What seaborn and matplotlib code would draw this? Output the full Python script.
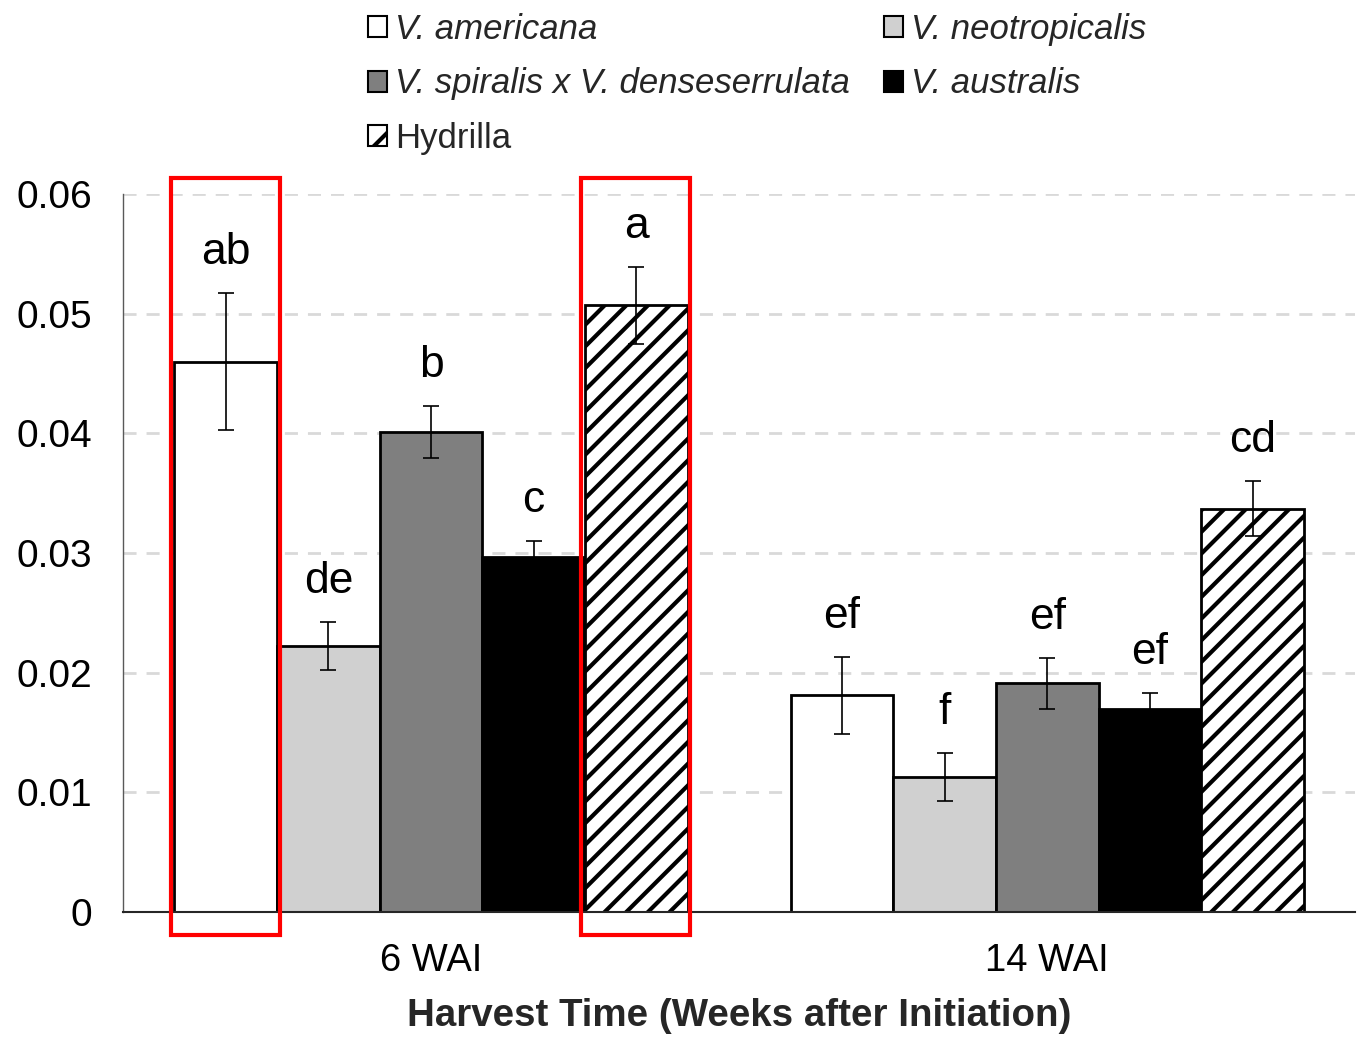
import matplotlib
matplotlib.use("Agg")
import matplotlib.pyplot as plt
from matplotlib.patches import Patch, Rectangle
import pandas as pd
import seaborn as sns

# ---- data ----
times = ["6 WAI", "14 WAI"]
species = ["V. americana", "V. neotropicalis", "V. spiralis x V. denseserrulata",
           "V. australis", "Hydrilla"]
means_6wai = [0.0460, 0.0222, 0.0401, 0.0297, 0.0507]
means_14wai = [0.0181, 0.0113, 0.0191, 0.0170, 0.0337]
err_6wai = [0.0057, 0.0020, 0.0022, 0.0013, 0.0032]
err_14wai = [0.0032, 0.0020, 0.0021, 0.0013, 0.0023]
letters_6wai = ["ab", "de", "b", "c", "a"]
letters_14wai = ["ef", "f", "ef", "ef", "cd"]
yticks = [0, 0.01, 0.02, 0.03, 0.04, 0.05, 0.06]
ytick_labels = ["0", "0.01", "0.02", "0.03", "0.04", "0.05", "0.06"]
xlabel = "Harvest Time (Weeks after Initiation)"
# bars outlined in red: (time, species)
highlighted = [("6 WAI", "Hydrilla"), ("6 WAI", "V. americana")]

fills = ["#ffffff", "#d0d0d0", "#7f7f7f", "#000000", "#ffffff"]
hatches = ["", "", "", "", "//"]

# the figure is rendered at 130 dpi so the hatch spacing comes out tight;
# P converts sizes given for a 100-dpi canvas into points
DPI = 130
P = 100 / DPI

sns.set_style("white")
plt.rcParams["font.family"] = ["Liberation Sans", "DejaVu Sans"]
plt.rcParams["hatch.linewidth"] = 3.0 * P

rows = []
for t, means, errs, lets in [(times[0], means_6wai, err_6wai, letters_6wai),
                             (times[1], means_14wai, err_14wai, letters_14wai)]:
    for s, m, e, l in zip(species, means, errs, lets):
        rows.append({"time": t, "species": s, "value": m, "err": e, "letter": l})
df = pd.DataFrame(rows)

fig = plt.figure(figsize=(1358 / DPI, 1037 / DPI), dpi=DPI)
ax = fig.add_axes([0.0906, 0.1205, 0.9074, 0.6924])

sns.barplot(data=df, x="time", y="value", hue="species", order=times,
            hue_order=species, palette=dict(zip(species, fills)),
            edgecolor="black", linewidth=2.0 * P, width=0.833, errorbar=None,
            saturation=1, legend=False, ax=ax, zorder=2)

for sp, cont, hatch in zip(species, ax.containers, hatches):
    sub = df[df["species"] == sp].set_index("time").loc[times]
    xs = []
    for bar, t in zip(cont, times):
        bar.set_hatch(hatch)
        bar.set_edgecolor("black")
        xs.append(bar.get_x() + bar.get_width() / 2)
        if (t, sp) in highlighted:
            x0 = bar.get_x() - 0.006
            w = bar.get_width() + 0.010
            ax.add_patch(Rectangle((x0, -0.00192), w, 0.06130 + 0.00192,
                                   fill=False, edgecolor="#ff0000",
                                   linewidth=3.0 * P, clip_on=False, zorder=5))
    ax.errorbar(xs, sub["value"].values, yerr=sub["err"].values, fmt="none",
                ecolor="black", elinewidth=1.2 * P, capsize=6 * P,
                capthick=1.2 * P, zorder=4)
    for x, top, lab in zip(xs, (sub["value"] + sub["err"]).values,
                           sub["letter"].values):
        ax.text(x, top + 0.0034, lab, ha="center", va="center",
                fontsize=32 * P, color="black")

ax.set_xlim(-0.5, 1.5)
ax.set_ylim(0, 0.06)
ax.set_yticks(yticks)
ax.set_yticklabels(ytick_labels)
ax.tick_params(axis="both", length=0, colors="black")
ax.tick_params(axis="y", pad=22 * P, labelsize=28 * P)
ax.tick_params(axis="x", pad=22 * P, labelsize=27.5 * P)
ax.set_xlabel(xlabel, fontsize=27.7 * P, fontweight="bold", labelpad=14 * P)
ax.set_ylabel("")

ax.set_axisbelow(True)
ax.yaxis.grid(True, color="#d9d9d9", linewidth=2.0 * P,
              linestyle=(0, (4.7, 3.6)))
ax.xaxis.grid(False)
for side in ["top", "right"]:
    ax.spines[side].set_visible(False)
ax.spines["left"].set_color("#595959")
ax.spines["left"].set_linewidth(1.0 * P)
ax.spines["bottom"].set_color("#262626")
ax.spines["bottom"].set_linewidth(1.5 * P)

# legend: first column americana / spiralis hybrid / Hydrilla, second column the rest
order = [0, 2, 4, 1, 3]
handles = [Patch(facecolor=fills[i], edgecolor="black", linewidth=1.5 * P,
                 hatch=("/" if hatches[i] else "")) for i in order]
labels = [species[i] for i in order]
leg = fig.legend(handles, labels, loc="upper left",
                 bbox_to_anchor=(0.2710, 0.9875),
                 ncol=2, frameon=False, fontsize=25 * P, handlelength=0.55,
                 handleheight=0.55, handletextpad=0.22, columnspacing=1.0,
                 labelspacing=0.62, borderpad=0.0, borderaxespad=0.0)
for txt in leg.get_texts():
    if txt.get_text().startswith("V."):
        txt.set_style("italic")

fig.savefig("out.png", dpi=DPI)
